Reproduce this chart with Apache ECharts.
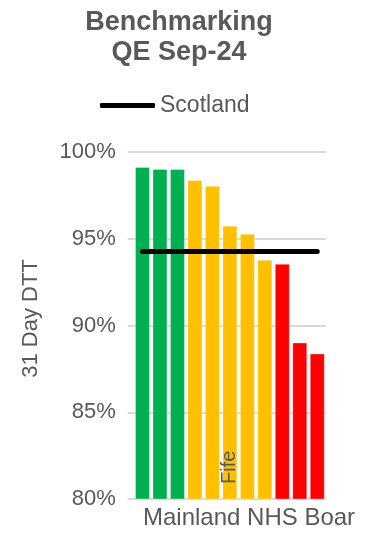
<!DOCTYPE html>
<html>
<head>
<meta charset="utf-8">
<script src="https://cdn.jsdelivr.net/npm/echarts@6/dist/echarts.min.js"></script>
<style>
html,body{margin:0;padding:0;background:#fff;}
#chart{width:382px;height:534px;}
</style>
</head>
<body>
<div id="chart"></div>
<script>
// Data
const boards = ['Board 1','Board 2','Board 3','Board 4','Board 5','Fife','Board 7','Board 8','Board 9','Board 10','Board 11'];
const dttValues = [99.14, 99.02, 99.02, 98.39, 98.05, 95.75, 95.29, 93.79, 93.56, 89.02, 88.39];
const ragStatus = ['green','green','green','amber','amber','amber','amber','amber','red','red','red'];
const scotlandValue = [94.27, 94.27, 94.27, 94.27, 94.27, 94.27, 94.27, 94.27, 94.27, 94.27, 94.27];
const yTicks = [80, 85, 90, 95, 100];
const labelledBoard = 'Fife';

const ragColors = {green:'#00B050', amber:'#FFC000', red:'#FF0000'};
const txt = '#595959';
const font = 'Liberation Sans, Arial, sans-serif';

const chart = echarts.init(document.getElementById('chart'), null, {renderer:'canvas'});
chart.setOption({
  animation:false,
  textStyle:{fontFamily:font},
  title:{
    text:'Benchmarking\nQE Sep-24',
    left:174, top:3, textAlign:'center',
    textStyle:{fontSize:27, fontWeight:'bold', color:txt, lineHeight:30, fontFamily:font}
  },
  legend:{
    data:[{name:'Scotland', icon:'roundRect'}],
    left:95, top:89,
    itemWidth:55, itemHeight:5, itemGap:5,
    itemStyle:{color:'#000'},
    textStyle:{fontSize:23, color:txt, fontFamily:font, padding:[0,0,0,0]}
  },
  grid:{left:133.75, right:56, top:152, bottom:35, containLabel:false},
  xAxis:{
    type:'category',
    data:boards,
    axisLine:{show:false},
    axisTick:{show:false},
    axisLabel:{
      inside:true, rotate:90, margin:15,
      fontSize:20, color:txt, fontFamily:font,
      interval:0,
      formatter:function(v){return v===labelledBoard ? v : '';}
    },
    z:10
  },
  yAxis:{
    type:'value',
    min:yTicks[0], max:yTicks[yTicks.length-1], interval:5,
    name:'31 Day DTT', nameLocation:'middle', nameGap:92,
    nameTextStyle:{fontSize:22, color:txt, fontFamily:font, padding:[0,0,0,14]},
    axisLine:{show:false},
    axisTick:{show:true, length:6, lineStyle:{color:'#d9d9d9', width:2}},
    axisLabel:{fontSize:22, color:txt, margin:18, formatter:'{value}%', fontFamily:font},
    splitLine:{lineStyle:{color:'#d9d9d9', width:2}}
  },
  graphic:[{
    type:'text', left:143, top:506,
    style:{text:'Mainland NHS Board', fontSize:24, fill:txt, fontFamily:font,
      width:216, overflow:'truncate', ellipsis:''}
  }],
  series:[
    {
      name:'DTT', type:'bar',
      barCategoryGap:'14%',
      data:dttValues.map((v,i)=>({value:v, itemStyle:{color:ragColors[ragStatus[i]]}})),
      itemStyle:{borderColor:'rgba(255,255,255,0.35)', borderWidth:1}
    },
    {
      name:'Scotland', type:'line',
      data:scotlandValue,
      symbol:'none',
      lineStyle:{color:'#000', width:5, cap:'round'},
      itemStyle:{color:'#000'},
      z:5
    }
  ]
});
</script>
</body>
</html>
